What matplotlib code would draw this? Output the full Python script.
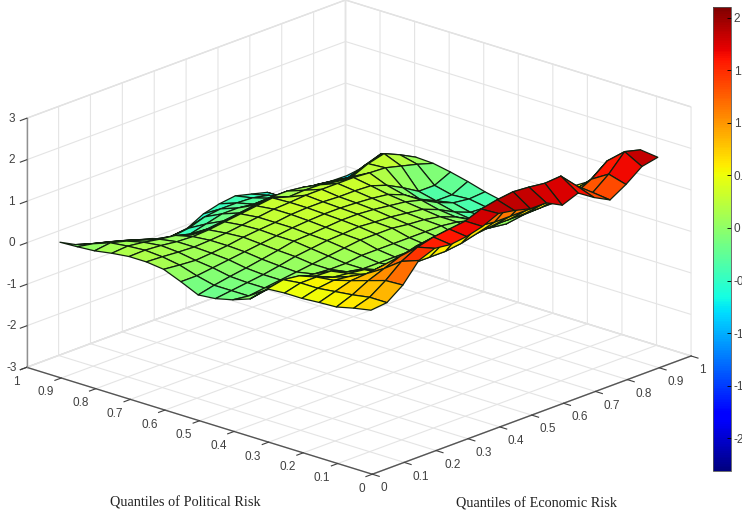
import numpy as np
import matplotlib
matplotlib.use('Agg')
import matplotlib.pyplot as plt

plt.rcParams['axes.unicode_minus'] = False

economic_risk = [0.05, 0.10, 0.15, 0.20, 0.25, 0.30, 0.35, 0.40, 0.45, 0.50,
                 0.55, 0.60, 0.65, 0.70, 0.75, 0.80, 0.85, 0.90, 0.95]
political_risk = [0.05, 0.10, 0.15, 0.20, 0.25, 0.30, 0.35, 0.40, 0.45, 0.50,
                  0.55, 0.60, 0.65, 0.70, 0.75, 0.80, 0.85, 0.90, 0.95]

# one row per political risk quantile
effect = [
    [.68, .72, 1.0, 1.45, 1.6, 1.55, 1.6, 1.7, 1.87, 1.8, 1.7, 1.7, 1.5, 1.65, 1.4, 1.2, 1.43, 1.72, 1.8],
    [.60, .72, .98, 1.3, 1.5, 1.6, 1.65, 1.7, 1.85, 1.93, 1.98, 1.95, 1.9, 1.93, 1.55, 1.25, 1.55, 1.95, 1.85],
    [.50, .65, .85, 1.0, 1.15, 1.25, 1.3, 1.3, 1.35, 1.4, 1.45, 1.45, 1.4, 1.4, 1.2, 1.1, 1.3, 1.6, 1.6],
    [.48, .60, .72, .75, .80, .80, .80, .80, .85, .90, .90, .85, .85, .85, .85, .85, .90, 1.0, 1.1],
    [.45, .55, .60, .55, .45, .35, .30, .30, .30, .30, .35, .45, .50, .50, .50, .50, .50, .60, .70],
    [.45, .55, .55, .40, .35, .30, .15, .10, .10, .10, .15, .20, .25, .25, .25, .20, .35, .40, .45],
    [.42, .50, .45, .30, .28, .12, .05, .05, .05, .05, .05, .05, -.02, -.05, -.10, -.15, .05, .10, .10],
    [.05, .12, .12, .10, .08, .05, .05, .10, .10, .10, .10, .10, .10, .05, -.05, -.20, -.20, -.20, -.20],
    [-.10, -.15, -.10, -.05, .00, .05, .10, .15, .20, .20, .20, .15, .12, .05, -.10, -.30, -.40, -.42, -.39],
    [-.20, -.15, -.10, -.05, .02, .10, .15, .20, .22, .25, .22, .20, .15, .10, -.05, -.25, -.40, -.42, -.41],
    [-.24, -.15, -.08, -.02, .05, .12, .20, .22, .25, .28, .28, .25, .20, .15, .05, -.15, -.30, -.35, -.32],
    [-.05, -.05, .00, .05, .10, .15, .20, .25, .28, .30, .30, .28, .25, .20, .05, -.20, -.38, -.38, -.20],
    [.12, .08, .05, .08, .12, .18, .22, .25, .30, .32, .32, .30, .30, .28, .15, -.05, -.28, -.28, -.10],
    [.17, .15, .12, .10, .12, .15, .20, .25, .30, .32, .35, .35, .35, .35, .32, .30, .20, .10, -.02],
    [.17, .18, .15, .10, .08, .10, .15, .20, .25, .30, .18, .20, .19, .12, .10, .27, .37, .20, .00],
    [.12, .15, .10, .03, -.02, -.15, -.15, -.10, -.05, .00, .05, .05, .00, -.08, -.13, -.19, -.02, .08, -.10],
    [.05, .10, .00, -.12, -.35, -.40, -.40, -.30, -.20, -.20, -.25, -.25, -.39, -.38, -.36, -.40, -.47, -.30, -.17],
    [.02, -.05, -.15, -.26, -.38, -.50, -.58, -.53, -.40, -.35, -.35, -.37, -.45, -.65, -.65, -.63, -.68, -.74, -.62],
    [.00, -.20, -.32, -.42, -.53, -.65, -.80, -.85, -.80, -.60, -.50, -.45, -.55, -.65, -.90, -.88, -.90, -.95, -.96],
]

quantile_ticks = [0, 0.1, 0.2, 0.3, 0.4, 0.5, 0.6, 0.7, 0.8, 0.9, 1]
quantile_labels = ['0', '0.1', '0.2', '0.3', '0.4', '0.5', '0.6', '0.7', '0.8', '0.9', '1']
effect_ticks = [-3, -2, -1, 0, 1, 2, 3]
bar_ticks = [-2, -1.5, -1, -0.5, 0, 0.5, 1, 1.5, 2]
bar_labels = ['-2', '-1.5', '-1', '-0.5', '0', '0.5', '1', '1.5', '2']

W, H = 742, 519
tick_font = 'Liberation Sans'
grey_text = '#404040'

fig = plt.figure(figsize=(W / 100, H / 100), dpi=100)
size = 695
ax = fig.add_axes([2 / W, -75 / H, size / W, size / H], projection='3d', proj_type='ortho')
ax.patch.set_alpha(0)
ax.view_init(elev=19.8, azim=-137.6)
ax.set_box_aspect((1, 0.99, 0.56))

X, Y = np.meshgrid(economic_risk, political_risk)
Z = np.array(effect)
surf = ax.plot_surface(X, Y, Z, rstride=1, cstride=1, cmap='jet', vmin=-2.31, vmax=2.1,
                       edgecolor='#10200f', linewidth=0.9, shade=False, antialiased=True)

ax.set_xlim(0, 1, view_margin=0)
ax.set_ylim(0, 1, view_margin=0)
ax.set_zlim(-3, 3, view_margin=0)
ax.set_xticks(quantile_ticks)
ax.set_xticklabels(quantile_labels)
ax.set_yticks(quantile_ticks)
ax.set_yticklabels(quantile_labels)
ax.set_zticks(effect_ticks)

for axis in [ax.xaxis, ax.yaxis, ax.zaxis]:
    axis.set_pane_color((1, 1, 1, 1))
    axis.pane.set_edgecolor('#dcdcdc')
    axis._axinfo['grid']['color'] = '#e4e4e4'
    axis._axinfo['grid']['linewidth'] = 0.8
    axis._axinfo['tick']['inward_factor'] = 0.25
    axis._axinfo['tick']['outward_factor'] = 0.0
    axis.line.set_color('#555555')
    axis.line.set_linewidth(1.0)
ax.zaxis.line.set_color('#909090')
ax.tick_params(axis='x', labelsize=8.5, labelcolor=grey_text, colors=grey_text, pad=-2)
ax.tick_params(axis='y', labelsize=8.5, labelcolor=grey_text, colors=grey_text, pad=-2)
ax.tick_params(axis='z', labelsize=8.5, labelcolor=grey_text, colors=grey_text, pad=-2)
for lab in ax.get_xticklabels() + ax.get_yticklabels() + ax.get_zticklabels():
    lab.set_family(tick_font)
for lab in ax.get_xticklabels():
    lab.set_ha('left')
    lab.set_va('top')
for lab in ax.get_yticklabels():
    lab.set_ha('right')
    lab.set_va('top')
for lab in ax.get_zticklabels():
    lab.set_va('center')

cax = fig.add_axes([713 / W, 1 - 471 / H, 18 / W, 464 / H])
cbar = fig.colorbar(surf, cax=cax)
cbar.set_ticks(bar_ticks)
cbar.set_ticklabels(bar_labels)
cbar.ax.tick_params(labelsize=8.5, labelcolor=grey_text, direction='in', length=3, width=0.6, pad=2)
for lab in cbar.ax.get_yticklabels():
    lab.set_family(tick_font)
cbar.outline.set_edgecolor('#555555')
cbar.outline.set_linewidth(0.6)

fig.text(185 / W, 1 - 503 / H, 'Quantiles of Political Risk', family='Liberation Serif',
         fontsize=10.3, ha='center', va='center', color='#222222')
fig.text(537 / W, 1 - 504 / H, 'Quantiles of Economic Risk', family='Liberation Serif',
         fontsize=10.3, ha='center', va='center', color='#222222')

fig.savefig('out.png', dpi=100)
